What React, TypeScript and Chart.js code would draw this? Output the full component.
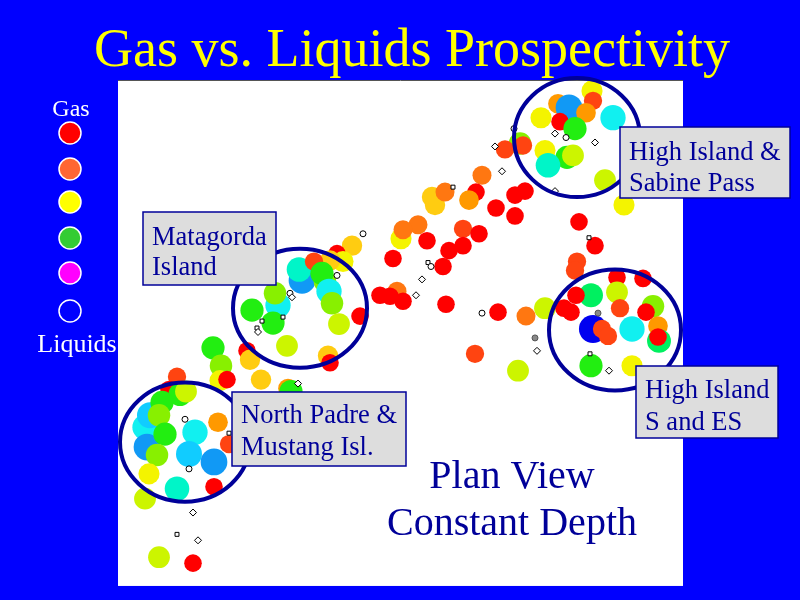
import { useEffect, useRef } from "react";
import { Chart, registerables } from "chart.js";

Chart.register(...registerables);

// Well locations (map easting / northing units) and gas-liquid index (0 = gas ... 15 = liquids)
const wellEast = [
  474, 475, 440, 451, 468, 423, 495, 442, 457, 402, 405, 427, 449, 455, 430, 487, 506,
  387, 397, 407, 364, 358, 351, 378, 397, 314, 317, 327, 300, 283, 285, 309, 345, 361,
  275, 331, 345, 325, 279, 262, 272, 285, 328, 380, 408, 427, 357, 400,
  461, 477, 459, 457, 499, 525, 473, 499, 458, 446, 453, 502, 535, 528, 475, 484, 490,
  514, 540, 541, 540, 473, 514,
  234, 219, 225, 212, 184, 181, 196, 207, 204, 211, 214, 160, 157, 134, 155, 221, 242,
  169, 210, 212,
  95, 103, 102, 109, 129, 132, 143, 170, 173, 59,
  51, 62, 68, 27, 32, 44, 41, 29, 47, 77, 71, 96, 39, 31, 59, 96, 27, 100, 111, 41, 75,
];
const wellNorth = [
  499, 489, 486, 482, 477, 472, 472, 468, 461, 446, 444, 439, 432, 434, 424, 409, 384,
  440, 394, 398, 414, 397, 389, 381, 373, 392, 384, 397, 364, 350, 359, 348, 360, 355,
  330, 338, 343, 322, 297, 293, 292, 287, 284, 276, 272, 280, 234, 217,
  367, 343, 327, 318, 311, 310, 293, 296, 293, 280, 276, 280, 282, 276, 259, 259, 252,
  259, 262, 247, 251, 222, 222,
  343, 335, 327, 328, 308, 319, 327, 307, 315, 297, 285, 283, 295, 278, 265, 264, 272,
  242, 232, 225,
  240, 222, 207, 208, 237, 228, 208, 199, 196, 211,
  198, 193, 196, 160, 172, 185, 172, 140, 153, 155, 133, 125, 132, 113, 98, 100, 88, 165, 143, 29, 23,
];
const wellGas = [
  5, 1, 3, 13, 3, 5, 11, 0, 8, 7, 1, 5, 8, 6, 10, 6, 5,
  1, 0, 0, 2, 0, 3, 0, 0, 4, 4, 2, 2, 5, 2, 0, 1, 0,
  0, 0, 0, 0, 2, 0, 0, 0, 0, 0, 2, 6, 1, 6,
  0, 0, 1, 1, 0, 0, 9, 6, 0, 0, 0, 1, 7, 0, 15, 1, 1,
  11, 3, 9, 0, 8, 5,
  4, 0, 5, 4, 13, 10, 1, 7, 8, 11, 7, 11, 7, 8, 8, 6, 0,
  6, 4, 0,
  8, 7, 5, 0, 0, 4, 4, 3, 8, 1,
  0, 8, 6, 11, 12, 8, 7, 13, 8, 11, 12, 13, 7, 5, 10, 0, 6, 3, 1, 6, 0,
];

// Small well-symbol markers (no test result)
const markerEast = [
  437, 448, 477, 396, 437, 377, 384, 335, 310, 313, 304, 298, 245, 219, 364, 417, 419,
  471, 480, 472, 491, 172, 174, 144, 165, 139, 140, 180, 67, 71, 111, 75, 59, 80,
];
const markerNorth = [
  456, 452, 447, 461, 398, 443, 418, 402, 326, 322, 309, 293, 355, 313, 275, 250, 237,
  351, 275, 234, 217, 295, 291, 267, 271, 260, 256, 204, 168, 118, 154, 74, 52, 46,
];
const markerKind = [
  "d", "c", "d", "c", "d", "d", "d", "s", "s", "c", "d", "d", "c", "c", "c", "g", "d",
  "s", "g", "s", "d", "c", "d", "s", "s", "s", "d", "d", "c", "c", "s", "d", "s", "d",
];

// Prospect outlines: centre and radii in map units
const regionNames = ["High Island & Sabine Pass", "Matagorda Island", "High Island S and ES", "North Padre & Mustang Isl."];
const regionEast = [459, 182, 497, 67];
const regionNorth = [452, 280, 258, 145];
const regionRadiusE = [63, 67, 66, 65];
const regionRadiusN = [60, 60, 61, 60];

const legendLabels = ["Gas", "Liquids"];
const legendColors = ["#FF0000", "#FF6633", "#FFFF00", "#33CC33", "#FF00FF", "#0000FF"];

const gasPalette = [
  "#FF0000", "#FF4411", "#FF7711", "#FF9900", "#FFCC11", "#F4F400", "#CCF500", "#88F000",
  "#22EE11", "#00F060", "#00F5C8", "#11F0F0", "#11CCFF", "#1199F5", "#0066FF", "#0000F0",
];

const SERIF = '"Liberation Serif", "Times New Roman", serif';
const NAVY = "#000099";

const decorPlugin = {
  id: "decor",
  beforeDraw(chart: any) {
    const { ctx, chartArea: a, width, height } = chart;
    ctx.save();
    ctx.fillStyle = "#0000FF";
    ctx.fillRect(0, 0, width, height);
    ctx.fillStyle = "#FFFFFF";
    ctx.fillRect(a.left, a.top, a.right - a.left, a.bottom - a.top);
    ctx.strokeStyle = "#555555";
    ctx.lineWidth = 1;
    ctx.beginPath();
    ctx.moveTo(a.left, a.top + 0.5);
    ctx.lineTo(a.right, a.top + 0.5);
    ctx.stroke();

    // title
    ctx.fillStyle = "#FFFF00";
    ctx.font = `54px ${SERIF}`;
    ctx.textAlign = "center";
    ctx.textBaseline = "alphabetic";
    ctx.fillText("Gas vs. Liquids Prospectivity", 412, 66);

    // legend
    ctx.fillStyle = "#FFFFFF";
    ctx.font = `24px ${SERIF}`;
    ctx.fillText(legendLabels[0], 71, 116);
    ctx.font = `26px ${SERIF}`;
    ctx.fillText(legendLabels[1], 77, 352);
    const ys = [133, 169, 202, 238, 273, 311];
    legendColors.forEach((c, i) => {
      ctx.beginPath();
      ctx.arc(70, ys[i], 11, 0, Math.PI * 2);
      ctx.fillStyle = c;
      ctx.fill();
      ctx.lineWidth = 1.5;
      ctx.strokeStyle = "#FFFFFF";
      ctx.stroke();
    });
    ctx.restore();
  },
  afterDatasetsDraw(chart: any) {
    const { ctx } = chart;
    const xs = chart.scales.x;
    const ys = chart.scales.y;
    ctx.save();
    // prospect ellipses
    ctx.strokeStyle = NAVY;
    ctx.lineWidth = 4;
    regionNames.forEach((_, i) => {
      const cx = xs.getPixelForValue(regionEast[i]);
      const cy = ys.getPixelForValue(regionNorth[i]);
      const rx = Math.abs(xs.getPixelForValue(regionEast[i] + regionRadiusE[i]) - cx);
      const ry = Math.abs(ys.getPixelForValue(regionNorth[i] + regionRadiusN[i]) - cy);
      ctx.beginPath();
      ctx.ellipse(cx, cy, rx, ry, 0, 0, Math.PI * 2);
      ctx.stroke();
    });

    // label boxes
    const boxes = [
      { r: [620, 127, 170, 71], lines: ["High Island &", "Sabine Pass"], x: 629, b: [160, 191] },
      { r: [143, 212, 133, 73], lines: ["Matagorda", "Island"], x: 152, b: [245, 275] },
      { r: [636, 366, 142, 72], lines: ["High Island", "S and ES"], x: 645, b: [398, 430] },
      { r: [232, 392, 174, 74], lines: ["North Padre &", "Mustang Isl."], x: 241, b: [423, 455] },
    ];
    ctx.font = `26.5px ${SERIF}`;
    ctx.textAlign = "left";
    ctx.textBaseline = "alphabetic";
    boxes.forEach((bx) => {
      ctx.fillStyle = "#DDDDDD";
      ctx.fillRect(bx.r[0], bx.r[1], bx.r[2], bx.r[3]);
      ctx.lineWidth = 1.5;
      ctx.strokeStyle = NAVY;
      ctx.strokeRect(bx.r[0], bx.r[1], bx.r[2], bx.r[3]);
      ctx.fillStyle = NAVY;
      bx.lines.forEach((t, j) => ctx.fillText(t, bx.x, bx.b[j]));
    });

    ctx.font = `40px ${SERIF}`;
    ctx.textAlign = "center";
    ctx.fillStyle = NAVY;
    ctx.fillText("Plan View", 512, 488);
    ctx.fillText("Constant Depth", 512, 535);
    ctx.restore();
  },
};

export default function App() {
  const ref = useRef<HTMLCanvasElement | null>(null);
  useEffect(() => {
    document.body.style.margin = "0";
    const canvas = ref.current;
    if (!canvas) return;
    const markerStyle = markerKind.map((k) => (k === "d" ? "rectRot" : k === "s" ? "rect" : "circle"));
    const chart = new Chart(canvas, {
      type: "scatter",
      data: {
        datasets: [
          {
            label: "Dry / untested wells",
            data: markerEast.map((x, i) => ({ x, y: markerNorth[i] })),
            pointStyle: markerStyle as any,
            pointRadius: markerKind.map((k) => (k === "d" ? 3.5 : k === "s" ? 2.8 : 3)),
            pointBackgroundColor: markerKind.map((k) => (k === "g" ? "#888888" : "#FFFFFF")),
            pointBorderColor: markerKind.map((k) => (k === "g" ? "#555555" : "#000000")),
            pointBorderWidth: 1,
            order: 0,
            clip: false as any,
          },
          {
            label: "Gas / liquids index",
            data: wellEast.map((x, i) => ({ x, y: wellNorth[i] })),
            pointBackgroundColor: wellGas.map((g) => gasPalette[g]),
            pointBorderColor: wellGas.map((g) => gasPalette[g]),
            pointBorderWidth: 0,
            pointRadius: wellGas.map((g) => 8.8 + 0.35 * g),
            order: 1,
            clip: false as any,
          },
        ],
      },
      options: {
        responsive: false,
        animation: false,
        devicePixelRatio: 1,
        layout: { padding: { left: 118, top: 80, right: 117, bottom: 10 } },
        scales: {
          x: { type: "linear", min: 0, max: 565, display: false },
          y: { type: "linear", min: 0, max: 510, display: false },
        },
        plugins: {
          legend: { display: false },
          tooltip: { enabled: false },
        },
        events: [],
      },
      plugins: [decorPlugin],
    });
    return () => chart.destroy();
  }, []);
  return (
    <div style={{ position: "fixed", left: 0, top: 0, width: 800, height: 600 }}>
      <canvas ref={ref} width={800} height={600} style={{ width: 800, height: 600, display: "block" }} />
    </div>
  );
}
